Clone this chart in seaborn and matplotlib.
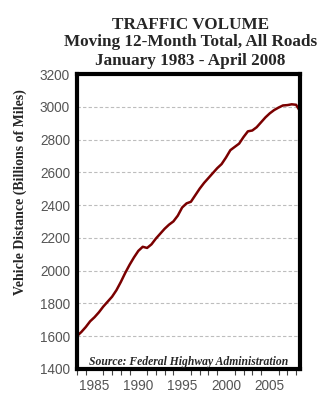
import matplotlib
matplotlib.use("Agg")
import matplotlib.pyplot as plt
import seaborn as sns
import pandas as pd
from matplotlib.ticker import MultipleLocator

years = [1983.0, 1983.5, 1984.0, 1984.5, 1985.0, 1985.5, 1986.0, 1986.5, 1987.0, 1987.5,
         1988.0, 1988.5, 1989.0, 1989.5, 1990.0, 1990.5, 1991.0, 1991.5, 1992.0, 1992.5,
         1993.0, 1993.5, 1994.0, 1994.5, 1995.0, 1995.5, 1996.0, 1996.5, 1997.0, 1997.5,
         1998.0, 1998.5, 1999.0, 1999.5, 2000.0, 2000.5, 2001.0, 2001.5, 2002.0, 2002.5,
         2003.0, 2003.5, 2004.0, 2004.5, 2005.0, 2005.5, 2006.0, 2006.5, 2007.0, 2007.5,
         2008.0, 2008.33]
miles = [1600, 1625, 1655, 1690, 1715, 1745, 1780, 1810, 1840, 1880,
         1930, 1985, 2035, 2080, 2120, 2145, 2138, 2160, 2195, 2225,
         2255, 2280, 2300, 2335, 2385, 2410, 2420, 2460, 2500, 2535,
         2565, 2595, 2625, 2650, 2690, 2735, 2755, 2775, 2815, 2850,
         2855, 2875, 2905, 2935, 2960, 2980, 2995, 3008, 3010, 3015,
         3012, 2983]

title_lines = ["TRAFFIC VOLUME", "Moving 12-Month Total, All Roads", "January 1983 - April 2008"]
y_label = "Vehicle Distance (Billions of Miles)"
source = "Source: Federal Highway Administration"

df = pd.DataFrame({"year": years, "miles": miles})

sns.set_theme(style="white")
fig = plt.figure(figsize=(3.29, 4.0), dpi=100)
ax = fig.add_axes([0.234, 0.078, 0.678, 0.737])

sns.lineplot(data=df, x="year", y="miles", ax=ax, color="#7a0000", linewidth=1.8)

ax.set_xlim(1983, 2008.45)
ax.set_ylim(1400, 3200)
ax.yaxis.set_major_locator(MultipleLocator(200))
ax.xaxis.set_major_locator(MultipleLocator(5))
ax.xaxis.set_minor_locator(MultipleLocator(1))
ax.grid(axis="y", color="#bdbdbd", linestyle=(0, (3, 2)), linewidth=0.8)
ax.set_axisbelow(True)

for s in ax.spines.values():
    s.set_visible(True)
    s.set_color("black")
    s.set_linewidth(3)

ax.tick_params(axis="both", which="both", direction="out", color="#444444",
               labelcolor="#555555", labelsize=9.8, width=0.8)
ax.tick_params(axis="y", length=4, pad=1)
ax.tick_params(axis="x", which="major", length=5, pad=2)
ax.tick_params(axis="x", which="minor", length=4, bottom=True)
for lab in ax.get_xticklabels() + ax.get_yticklabels():
    lab.set_family("Liberation Sans")

ax.set_xlabel("")
ax.set_ylabel(y_label, family="Liberation Serif", fontweight="bold", fontsize=10)
ax.yaxis.set_label_coords(-0.225, 0.6)

ys = [0.9375, 0.895, 0.8475]
for t, yy in zip(title_lines, ys):
    fig.text(0.578, yy, t, ha="center", va="center", family="Liberation Serif",
             fontweight="bold", fontsize=12.3)

ax.text(0.5, 0.024, source, transform=ax.transAxes, ha="center", va="center",
        family="Liberation Serif", fontweight="bold", style="italic", fontsize=8.4)

fig.savefig("out.png", dpi=100, facecolor="white")
